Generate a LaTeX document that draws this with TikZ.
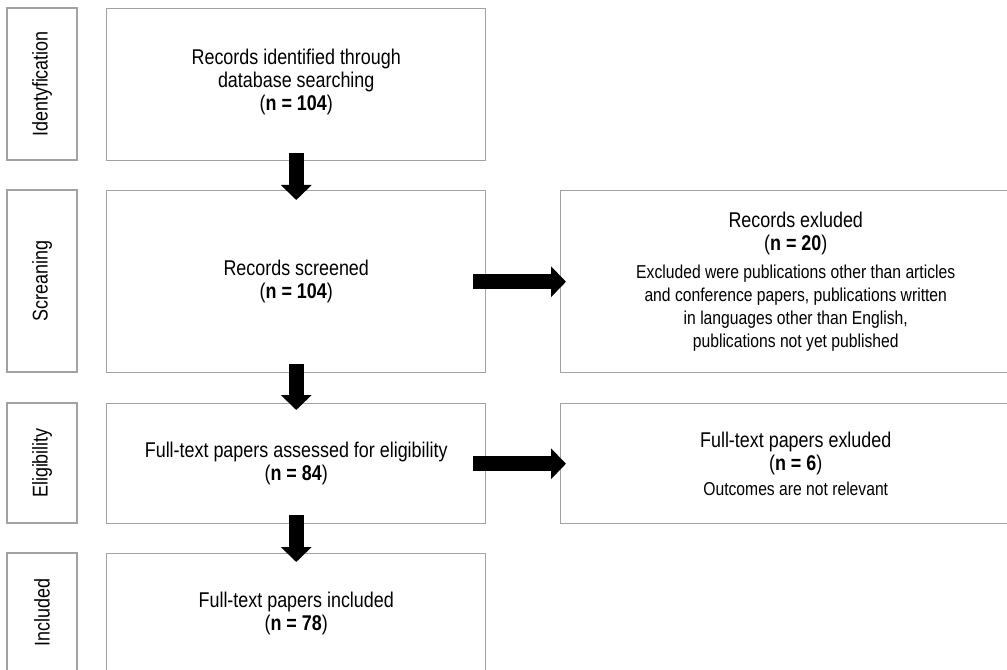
\documentclass[tikz,border=0pt]{standalone}
\usepackage{fontspec}
\setmainfont{Liberation Sans}[FakeStretch=0.84]
\usetikzlibrary{arrows.meta,calc}
\definecolor{boxgray}{RGB}{162,162,162}
\newcommand{\bigtxt}{\fontsize{16}{17.25}\selectfont}
\newcommand{\smalltxt}{\fontsize{14}{17.25}\selectfont}
\begin{document}
\begin{tikzpicture}[x=0.75pt,y=-0.75pt,
  box/.style={draw=boxgray, line width=1.1pt, inner sep=0pt, align=center, font=\bigtxt, text=black},
  mainbox/.style={box, anchor=north west, minimum width=284.25pt},
  sidebox/.style={box, anchor=north west, minimum width=352.5pt},
  stagebox/.style={box, rotate=90, minimum height=52.5pt},
  blockarrow/.style={draw=black, line width=11.25pt, -{Triangle[length=11.25pt,width=22.5pt]}}
]
\useasboundingbox (0,0) rectangle (1007,670);
\clip (0,0) rectangle (1007,670);

% stage labels
\node[stagebox, minimum width=114pt] (s1) at (42,84) {Identyfication};
\node[stagebox, minimum width=136.5pt] (s2) at (42,281) {Screaning};
\node[stagebox, minimum width=90pt] (s3) at (42,463) {Eligibility};
\node[stagebox, minimum width=89.25pt] (s4) at (42,612.5) {Included};

% main column
\node[mainbox, minimum height=114pt, text depth=8pt] (b1) at (106,8)
  {Records identified through\\database searching\\(\textbf{n = 104})};
\node[mainbox, minimum height=136.5pt] (b2) at (106,190)
  {Records screened\\(\textbf{n = 104})};
\node[mainbox, minimum height=90pt] (b3) at (106,403)
  {Full-text papers assessed for eligibility\\(\textbf{n = 84})};
\node[mainbox, minimum height=89.25pt] (b4) at (106,553)
  {Full-text papers included\\(\textbf{n = 78})};

% exclusion boxes
\node[sidebox, minimum height=136.5pt] (r1) at (560,190)
  {Records exluded\\(\textbf{n = 20})\\[3.75pt]%
   \smalltxt Excluded were publications other than articles\\%
   \smalltxt and conference papers, publications written\\%
   \smalltxt in languages other than English,\\%
   \smalltxt publications not yet published};
\node[sidebox, minimum height=90pt] (r2) at (560,403)
  {Full-text papers exluded\\(\textbf{n = 6})\\[2pt]\smalltxt Outcomes are not relevant};

% arrows
\draw[blockarrow] ($(b1.south)+(0,-8)$) -- ($(b2.north)+(0,10)$);
\draw[blockarrow] ($(b2.south)+(0,-9)$) -- ($(b3.north)+(0,7)$);
\draw[blockarrow] ($(b3.south)+(0,-9)$) -- ($(b4.north)+(0,9)$);
\draw[blockarrow] ($(b2.east)+(-13,0)$) -- ($(r1.west)+(6,0)$);
\draw[blockarrow] ($(b3.east)+(-13,0)$) -- ($(r2.west)+(6,0)$);
\end{tikzpicture}
\end{document}
